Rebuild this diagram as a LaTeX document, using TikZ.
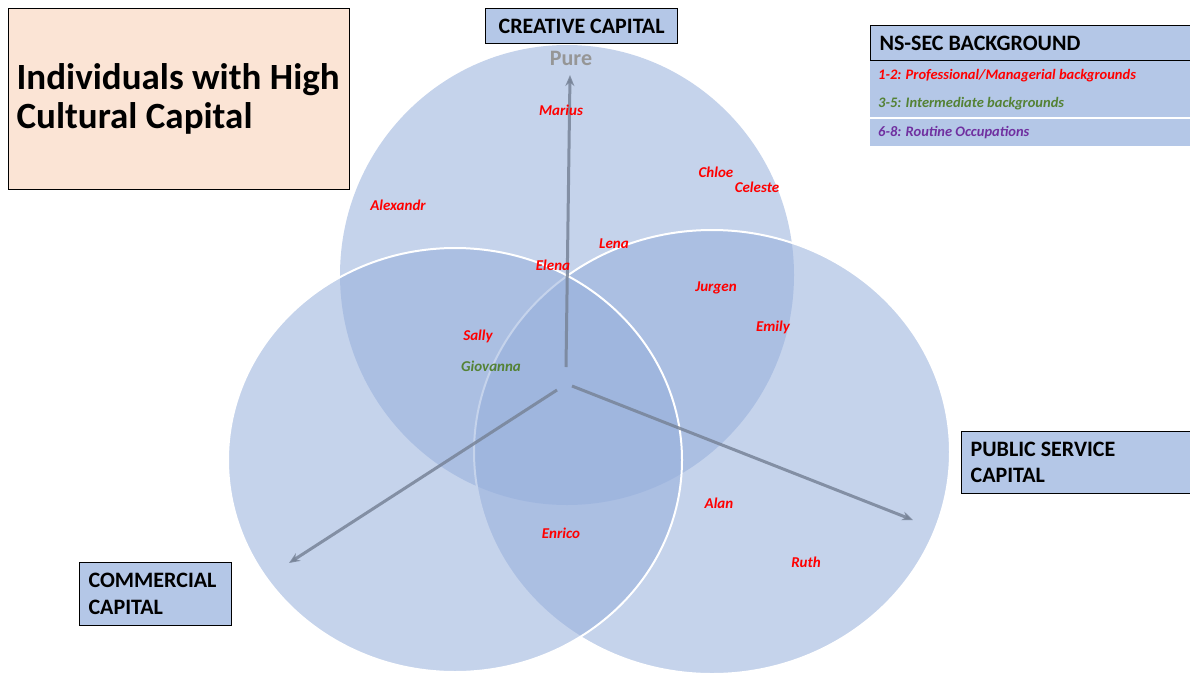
\documentclass[tikz,border=0pt]{standalone}
\usepackage{fontspec}
\setmainfont{Carlito}
\usetikzlibrary{arrows.meta,positioning}
\definecolor{capblue}{RGB}{180,199,231}
\definecolor{vennblue}{RGB}{150,175,220}
\definecolor{peach}{RGB}{251,228,213}
\definecolor{nsred}{RGB}{255,0,0}
\definecolor{nsgreen}{RGB}{84,130,53}
\definecolor{nspurple}{RGB}{112,48,160}
\definecolor{axisgrey}{RGB}{120,132,152}
\definecolor{puregrey}{RGB}{150,150,150}
\tikzset{
  capital/.style={draw=black,line width=1.2pt,fill=capblue,anchor=north west,
    align=flush left,inner xsep=8pt,font=\fontsize{22}{26.5}\selectfont\bfseries},
  legendrow/.style={fill=capblue,anchor=north west,minimum width=320,
    text width=304,inner xsep=8pt,align=flush left,
    font=\fontsize{14.5}{16}\selectfont\bfseries\itshape},
  venn/.style={fill=vennblue,fill opacity=0.55,draw=white,line width=2pt},
  person/.style={font=\fontsize{15}{17}\selectfont\bfseries\itshape,text=nsred},
  axis/.style={-{Stealth[length=11pt,width=9pt]},line width=3pt,draw=axisgrey,draw opacity=0.85}
}
\begin{document}
\begin{tikzpicture}[x=1pt,y=-1pt]
  \useasboundingbox[fill=white] (0,0) rectangle (1190,675);
  % the three capitals
  \fill[venn,draw=none] (567,275) ellipse [x radius=227,y radius=230];
  \draw[venn] (712,452) ellipse [x radius=238,y radius=222];
  \draw[venn] (455,460) ellipse [x radius=227,y radius=212];

  \node[font=\fontsize{22}{24}\selectfont\bfseries,text=puregrey] (pure) at (571,58) {Pure};
  \coordinate (creativeTail) at (566,367);
  \coordinate (creativeTip) at (570,75);
  \coordinate (commercialTail) at (557,390);
  \coordinate (commercialTip) at (289,563);
  \coordinate (publicTail) at (572,386);
  \coordinate (publicTip) at (913,520);
  \draw[axis] (creativeTail) -- (creativeTip);
  \draw[axis] (commercialTail) -- (commercialTip);
  \draw[axis] (publicTail) -- (publicTip);

  % title and capital labels
  \node[capital,fill=peach,minimum width=341,minimum height=181,text width=325,
    font=\fontsize{37}{39}\selectfont\bfseries,inner xsep=8pt] (title) at (8,8)
    {Individuals with High\\Cultural Capital};
  \node[capital,align=center,minimum width=192,minimum height=35] (creative) at (485,8)
    {CREATIVE CAPITAL};
  \node[capital,minimum width=152,minimum height=63,text width=134,inner xsep=9pt] (commercial) at (79,562)
    {COMMERCIAL\\CAPITAL};
  \node[capital,minimum width=231,minimum height=62,text width=213,inner xsep=9pt] (public) at (961,431)
    {PUBLIC SERVICE\\CAPITAL};

  % legend
  \node[capital,minimum width=324,minimum height=35,text width=306,inner xsep=9pt] (nshead) at (870,25)
    {NS-SEC BACKGROUND};
  \node[legendrow,minimum height=29,text=nsred] (ns12) at (870,61)
    {1-2: Professional/Managerial backgrounds};
  \node[legendrow,minimum height=28,text=nsgreen] (ns35) at (870,89)
    {3-5: Intermediate backgrounds};
  \node[legendrow,minimum height=27,text=nspurple] (ns68) at (870,119)
    {6-8: Routine Occupations};

  % individuals
  \node[person] (marius) at (561,110) {Marius};
  \node[person] (chloe) at (716,172) {Chloe};
  \node[person] (celeste) at (757,187) {Celeste};
  \node[person] (alexandr) at (398,205) {Alexandr};
  \node[person] (lena) at (614,244) {Lena};
  \node[person] (elena) at (553,265) {Elena};
  \node[person] (jurgen) at (716,288) {Jurgen};
  \node[person] (emily) at (773,327) {Emily};
  \node[person] (sally) at (478,336) {Sally};
  \node[person,text=nsgreen] (giovanna) at (491,366) {Giovanna};
  \node[person] (alan) at (719,503) {Alan};
  \node[person] (enrico) at (561,533) {Enrico};
  \node[person] (ruth) at (806,562) {Ruth};
\end{tikzpicture}
\end{document}
